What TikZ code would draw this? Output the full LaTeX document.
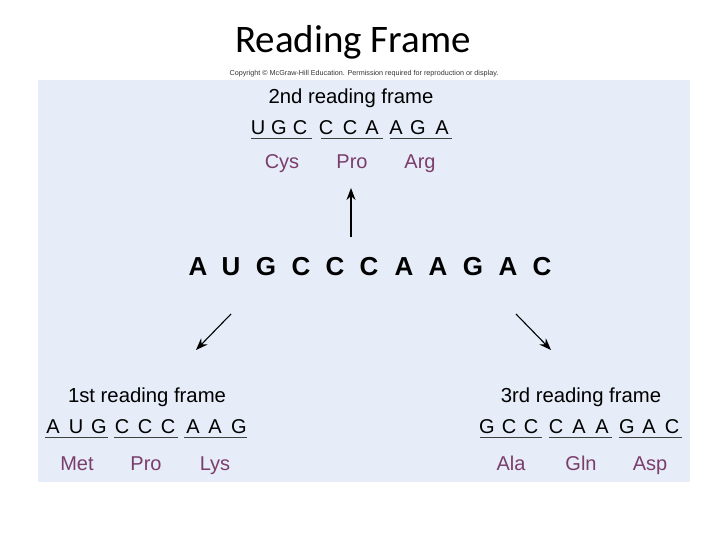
\documentclass[tikz,border=0pt]{standalone}
\usepackage{fontspec}
\usetikzlibrary{arrows.meta}
\setmainfont{Liberation Sans}
\newfontfamily\titlefont{Carlito}
\definecolor{panel}{HTML}{E6EDF8}
\definecolor{aacol}{HTML}{7A3D6C}
\begin{document}
\begin{tikzpicture}[x=1pt,y=-1pt,
  base/.style={inner sep=0pt,anchor=base,yshift=-7pt,font=\fontsize{20}{22}\selectfont},
  big/.style={inner sep=0pt,anchor=base,yshift=-9.3pt,font=\fontsize{26}{28}\selectfont\bfseries},
  aa/.style={inner sep=0pt,anchor=base,yshift=-7pt,text=aacol,font=\fontsize{20}{22}\selectfont},
  lab/.style={inner sep=0pt,anchor=base,yshift=-7pt,font=\fontsize{20.3}{22}\selectfont},
  uline/.style={draw=black!75,line width=0.8pt},
  arr/.style={-{Stealth[length=12pt,width=9pt]},line width=1.1pt}]
\useasboundingbox (0,0) rectangle (720,540);
\fill[panel] (38,80) rectangle (690,482);
\node[font=\titlefont\fontsize{39}{40}\selectfont,inner sep=0pt,anchor=base,yshift=-12.5pt] (title) at (353,40) {Reading Frame};
\node[inner sep=0pt,anchor=base,yshift=-2.6pt,font=\fontsize{7.2}{8}\selectfont,text=black!80] (copy) at (364,73) {Copyright \textcopyright{} McGraw-Hill Education. Permission required for reproduction or display.};
% 2nd frame
\node[lab] (l2) at (351,97) {2nd reading frame};
\foreach \x/\l [count=\i] in {258/U,279/G,300/C,326/C,350/C,372/A,396/A,418/G,442/A}
  \node[base] (b\i) at (\x,128) {\l};
\draw[uline] (251,138) -- (312,138);
\draw[uline] (321,138) -- (383,138);
\draw[uline] (390,138) -- (452,138);
\node[aa] (a21) at (282,162) {Cys};
\node[aa] (a22) at (352,162) {Pro};
\node[aa] (a23) at (420,162) {Arg};
% middle
\foreach \x/\l [count=\i] in {198/A,231/U,266/G,301/C,335/C,369/C,404/A,438/A,473/G,508/A,542/C}
  \node[big] (m\i) at (\x,266) {\l};
\coordinate (u1) at (351,237); \coordinate (u2) at (351,188);
\coordinate (l1) at (231,314); \coordinate (l2e) at (196,350);
\coordinate (r1) at (516,314); \coordinate (r2) at (551,350);
\draw[arr] (u1) -- (u2);
\draw[arr] (l1) -- (l2e);
\draw[arr] (r1) -- (r2);
% 1st frame
\node[lab] (l1t) at (147,395) {1st reading frame};
\foreach \x/\l [count=\i] in {53/A,76/U,99/G,122/C,145/C,168/C,193/A,215/A,239/G}
  \node[base] (f\i) at (\x,426) {\l};
\draw[uline] (45,437) -- (108,437);
\draw[uline] (114,437) -- (178,437);
\draw[uline] (184,437) -- (247,437);
\node[aa] (a11) at (77,463) {Met};
\node[aa] (a12) at (146,463) {Pro};
\node[aa] (a13) at (215,463) {Lys};
% 3rd frame
\node[lab] (l3t) at (581,395) {3rd reading frame};
\foreach \x/\l [count=\i] in {487/G,509/C,531/C,556/C,579/A,602/A,627/G,649/A,672/C}
  \node[base] (t\i) at (\x,426) {\l};
\draw[uline] (480,437) -- (542,437);
\draw[uline] (549,437) -- (612,437);
\draw[uline] (619,437) -- (682,437);
\node[aa] (a31) at (511,463) {Ala};
\node[aa] (a32) at (581,463) {Gln};
\node[aa] (a33) at (650,463) {Asp};
\end{tikzpicture}
\end{document}
